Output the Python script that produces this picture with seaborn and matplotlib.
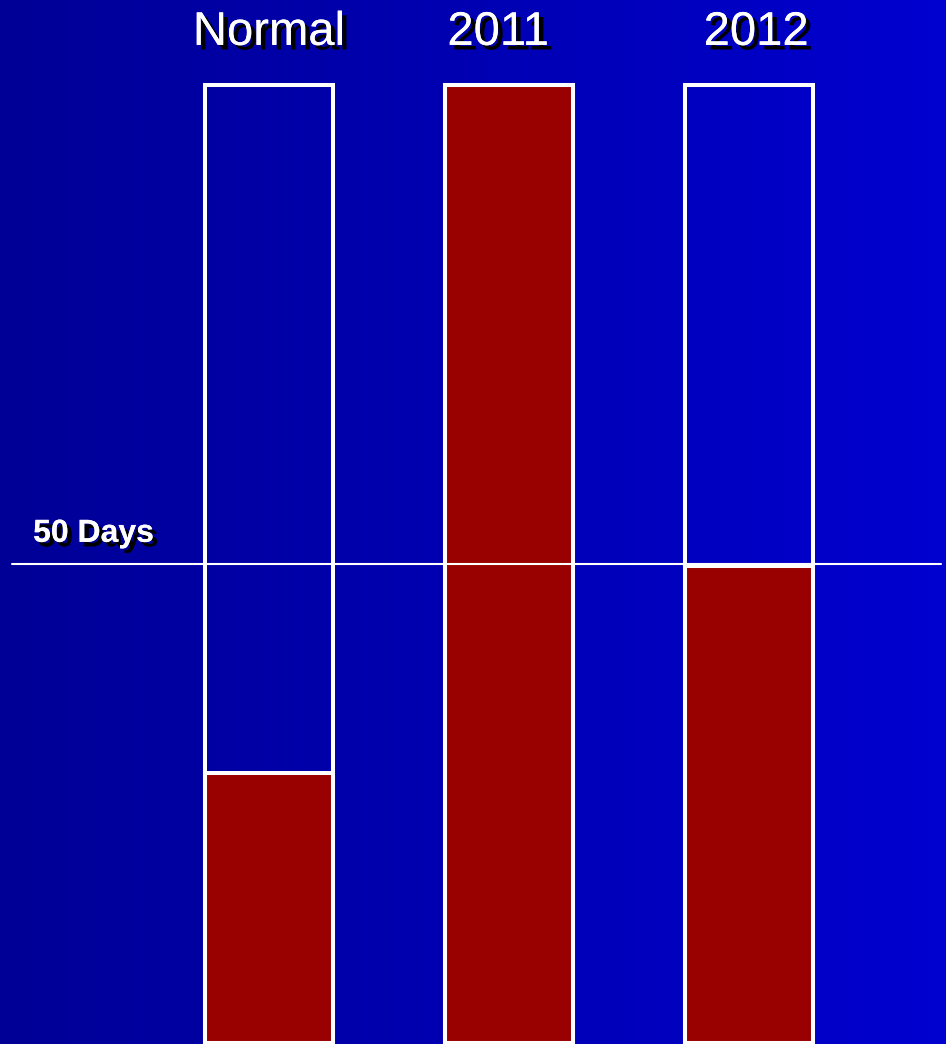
import numpy as np
import pandas as pd
import matplotlib
matplotlib.use("Agg")
import matplotlib.pyplot as plt
import matplotlib.patheffects as pe
import seaborn as sns

# data (days)
periods = ["Normal", "2011", "2012"]
days = [28.2, 100, 49.8]
scale_max = [100, 100, 100]
ref_days = 50
ref_label = "50 Days"

df = pd.DataFrame({"period": periods, "days": days, "scale": scale_max})

sns.set_theme(style="white")
plt.rcParams["font.family"] = ["Liberation Sans", "DejaVu Sans"]

fig = plt.figure(figsize=(9.46, 10.44), dpi=100)

# blue gradient background
bg = fig.add_axes([0, 0, 1, 1], zorder=0)
grad = np.linspace(0, 1, 256).reshape(1, -1)
cmap = matplotlib.colors.LinearSegmentedColormap.from_list("bg", ["#000096", "#0000D0"])
bg.imshow(grad, aspect="auto", cmap=cmap, extent=[0, 1, 0, 1])
bg.set_axis_off()

ax = fig.add_axes([0, 0, 1, 1], zorder=1)
ax.patch.set_alpha(0)

bar_w = 0.53
edge_lw = 2.9

# red filled part
sns.barplot(data=df, x="period", y="days", order=periods, color="#990000",
            saturation=1, width=bar_w, edgecolor="white", linewidth=edge_lw, ax=ax)
# white outline for full scale
sns.barplot(data=df, x="period", y="scale", order=periods, fill=False,
            width=bar_w, edgecolor="white", linewidth=edge_lw, ax=ax)

ax.set_xlim(-1.121, 2.821)
ax.set_ylim(-0.104, 108.87)

# reference line
ax.plot([-1.07, 2.80], [ref_days, ref_days], color="white", lw=1.5, zorder=3)

shadow = [pe.withSimplePatchShadow(offset=(3.3, -3.3), shadow_rgbFace="black", alpha=1.0), pe.Normal()]

ax.text(0.035, 0.481, ref_label, transform=ax.transAxes, color="white",
        fontsize=23, fontweight="bold", ha="left", va="baseline", path_effects=shadow)

label_dx = [0.0, -0.045, 0.03]
for i, name in enumerate(periods):
    ax.text(i + label_dx[i], 0.957, name, transform=ax.get_xaxis_transform(),
            color="white", fontsize=34, ha="center", va="baseline", path_effects=shadow)

ax.set_axis_off()
fig.savefig("out.png", dpi=100)
